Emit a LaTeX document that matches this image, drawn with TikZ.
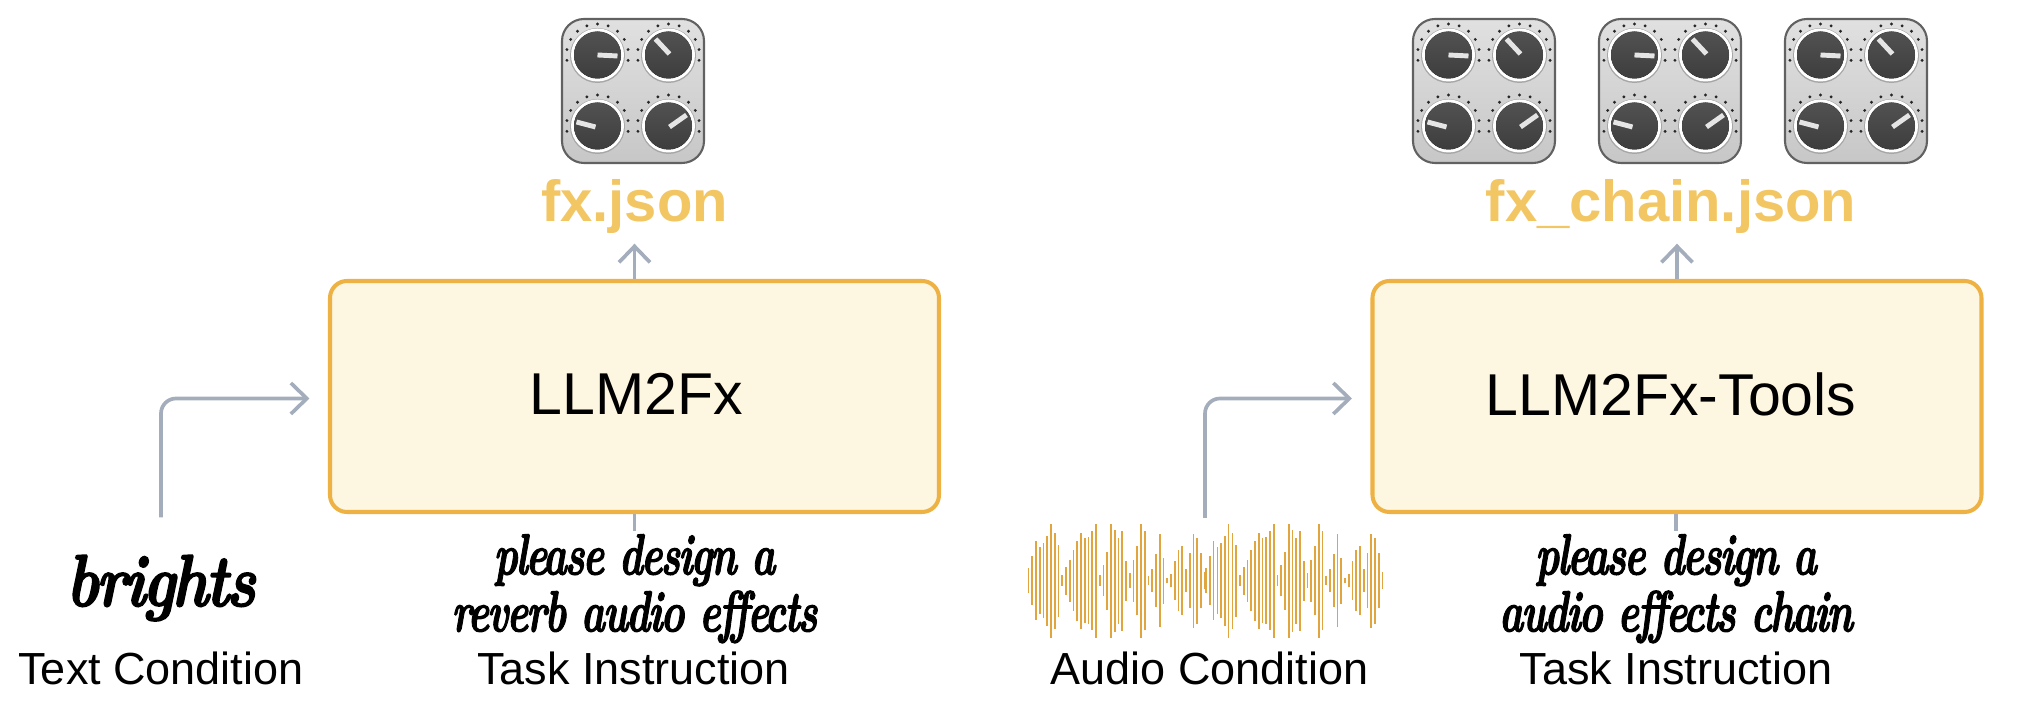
\documentclass[tikz,border=0pt]{standalone}
\usepackage{fontspec}
\setmainfont{Liberation Sans}
\newfontfamily\quotefont[Extension=.otf,FakeBold=2,LetterSpace=-5]{lmroman10-bolditalic}
\usepackage{xcolor}
\definecolor{boxline}{RGB}{238,178,68}
\definecolor{boxfill}{RGB}{253,246,224}
\definecolor{flowline}{RGB}{163,173,187}
\definecolor{jsontext}{RGB}{243,198,100}
\definecolor{wavebar}{RGB}{224,165,62}
\usetikzlibrary{arrows.meta}

% one panel with four knobs, origin at its centre
\tikzset{
    knobpanel/.pic={
        \draw[draw=black!62, line width=.6pt, rounded corners=.22cm, top color=black!12, bottom color=black!22] (-.71,-.72) rectangle (.71,.72);
        \foreach \kx/\ky/\ax/\ay/\bx/\by in {-.355/.36/0/0/.2/-.01, .355/.36/.01/.01/-.13/.16, -.355/-.35/-.02/-.01/-.21/.04, .355/-.35/.01/-.01/.18/.11} {
            \begin{scope}[shift={(\kx,\ky)}]
                \foreach \ang in {-10,10,...,190}
                    \fill[black!85] (\ang:.31) circle (.016);
                \fill[black!35] (0,-.005) circle (.275);
                \fill[white] (0,0) circle (.265);
                \fill[top color=black!68, bottom color=black!76] (0,0) circle (.235);
                \draw[black!10, line width=1.4pt] (\ax,\ay) -- (\bx,\by);
            \end{scope}
        }
    }
}

\begin{document}
\begin{tikzpicture}[
        llmbox/.style={rectangle, rounded corners=.17cm, draw=boxline, fill=boxfill, line width=1.15pt, minimum width=6.09cm, minimum height=2.31cm, font=\fontsize{16.8}{20}\selectfont},
        jsonlabel/.style={text=jsontext, minimum height=.72cm, inner sep=0pt, font=\bfseries\fontsize{16.5}{20}\selectfont},
        quotetext/.style={align=center, transform shape, xscale=.70, inner xsep=0pt, inner ysep=.025cm, font=\quotefont\fontsize{16.5}{16.2}\selectfont},
        caption/.style={anchor=base, inner sep=0pt, font=\fontsize{12.8}{15}\selectfont},
        flow/.style={draw=flowline, line width=1.05pt, rounded corners=.15cm, -{Straight Barb[length=.16cm, width=.31cm]}},
        stub/.style={draw=flowline, line width=1.05pt}
    ]
    \useasboundingbox (0,0) rectangle (20.22,7.22);

    \node[llmbox] (llm) at (6.345,3.255) {\raisebox{.05cm}{LLM2Fx}\kern-.04cm};
    \node[llmbox] (tools) at (16.77,3.255) {\raisebox{.05cm}{LLM2Fx-Tools}\kern.12cm};

    \node[jsonlabel] (fxjson) at (6.345,5.15) {fx.json};
    \node[jsonlabel] (chainjson) at (16.71,5.15) {fx\_chain.json};

    \pic at (6.33,6.31) {knobpanel};
    \pic at (14.84,6.31) {knobpanel};
    \pic at (16.70,6.31) {knobpanel};
    \pic at (18.56,6.31) {knobpanel};

    \node[quotetext, minimum height=1.4cm, xscale=1.19, font=\quotefont\fontsize{21}{21}\selectfont] (brights) at (1.61,1.34) {brights};
    \node[quotetext, anchor=north] (llmtask) at (6.345,1.91) {please design a\\reverb audio effects};
    \node[quotetext, anchor=north] (toolstask) at (16.76,1.91) {please design a\\audio effects chain};

    \node[caption] (textcond) at (1.61,.375) {Text Condition};
    \node[caption] (llmcap) at (6.335,.375) {Task Instruction};
    \node[caption] (audiocond) at (12.095,.375) {Audio Condition};
    \node[caption] (toolscap) at (16.76,.375) {Task Instruction};

    % waveform, the same 48 bars twice
    \foreach \rep in {0,1} {
        \foreach \h [count=\i from 0] in {38,74,118,100,113,135,171,144,108,16,42,63,92,120,144,127,130,148,171,16,47,87,171,153,129,150,60,23,63,104,171,149,13,35,80,140,69,8,20,58,92,104,35,83,141,129,83,25}
            \draw[wavebar, line width=.45pt] ({10.285+1.777*\rep+.0375*\i},{1.413-\h/300}) -- ({10.285+1.777*\rep+.0375*\i},{1.413+\h/300});
    }
    \coordinate (wave) at (12.05,2.04);

    \draw[flow] (brights.north) |- ([xshift=-1.85mm,yshift=-.2mm]llm.west);
    \draw[flow] (wave) |- ([xshift=-1.85mm,yshift=-.2mm]tools.west);
    \draw[flow] (llm.north) -- (llm.north |- fxjson.south);
    \draw[flow] (tools.north) -- (tools.north |- chainjson.south);
    \draw[stub] (llmtask.north) -- (llm.south -| llmtask);
    \draw[stub] (toolstask.north) -- (tools.south -| toolstask);
\end{tikzpicture}
\end{document}
